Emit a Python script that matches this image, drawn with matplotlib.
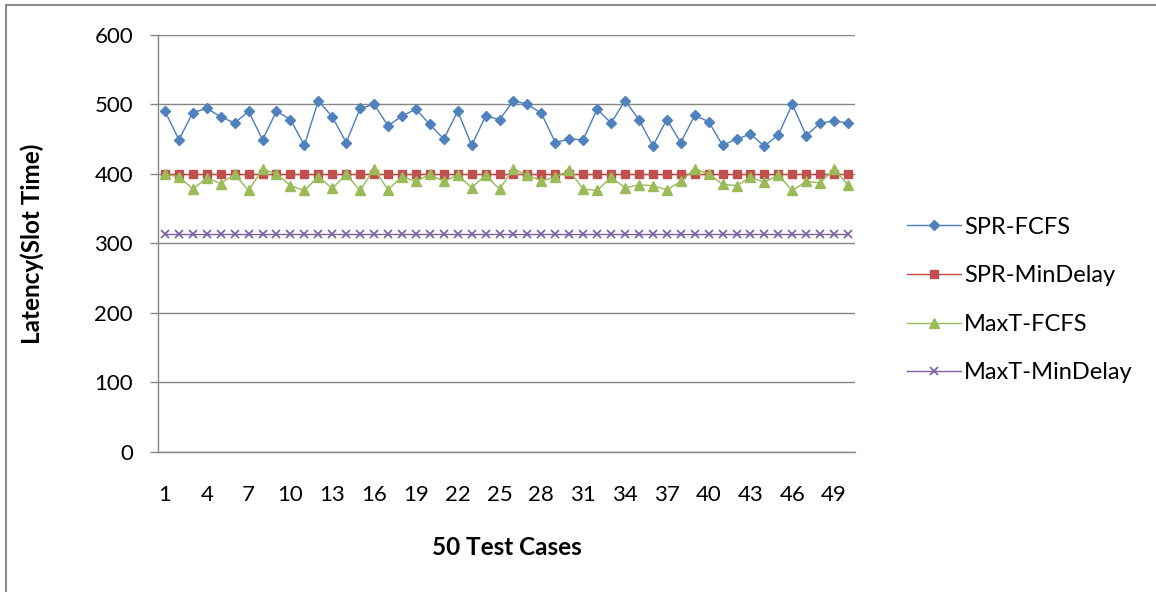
import matplotlib
matplotlib.use("Agg")
import matplotlib.pyplot as plt
from matplotlib.patches import Rectangle

plt.rcParams['font.family'] = ['Lato', 'DejaVu Sans']

# 50 test cases, latency values
cases = list(range(1, 51))
spr_fcfs = [490, 449, 488, 494, 482, 473, 490, 449, 490, 478,
            441, 505, 482, 445, 494, 500, 469, 483, 493, 471,
            450, 490, 441, 483, 478, 505, 500, 487, 445, 450,
            449, 493, 473, 505, 478, 440, 478, 445, 484, 475,
            441, 450, 457, 440, 456, 500, 455, 473, 476, 473]
spr_mindelay = [400] * 50
maxt_fcfs = [399, 396, 378, 394, 386, 399, 376, 407, 400, 383,
             376, 396, 379, 399, 376, 407, 377, 396, 389, 399,
             389, 398, 380, 398, 378, 407, 398, 390, 395, 405,
             378, 376, 395, 380, 384, 383, 377, 389, 407, 400,
             385, 383, 395, 388, 398, 376, 389, 387, 407, 384]
maxt_mindelay = [313] * 50

series_names = ["SPR-FCFS", "SPR-MinDelay", "MaxT-FCFS", "MaxT-MinDelay"]
y_ticks = [0, 100, 200, 300, 400, 500, 600]
x_tick_cases = cases[::3]

W, H = 1156, 592
fig = plt.figure(figsize=(W / 100, H / 100), dpi=100)
ax = fig.add_axes([158 / W, 1 - 452 / H, (855 - 158) / W, (452 - 34.7) / H])

grey = "#868686"

ax.plot(cases, spr_fcfs, color="#4A7EBB", lw=1.0, marker="D", ms=5.5,
        mfc="#4F81BD", mec="#4F81BD", label=series_names[0])
ax.plot(cases, spr_mindelay, color="#BE4B48", lw=1.0, marker="s", ms=6,
        mfc="#C0504D", mec="#C0504D", label=series_names[1])
ax.plot(cases, maxt_fcfs, color="#98B954", lw=1.0, marker="^", ms=7,
        mfc="#9BBB59", mec="#9BBB59", label=series_names[2])
ax.plot(cases, maxt_mindelay, color="#7D60A0", lw=1.0, marker="x", ms=5.5,
        mew=1.3, mec="#8064A2", label=series_names[3])

ax.set_xlim(0.5, 50.5)
ax.set_ylim(0, 600)
ax.set_yticks(y_ticks)
ax.set_xticks(x_tick_cases)
ax.yaxis.grid(True, color=grey, lw=1.0)
ax.set_axisbelow(True)

for side in ["top", "right"]:
    ax.spines[side].set_visible(False)
for side in ["left", "bottom"]:
    ax.spines[side].set_color(grey)
    ax.spines[side].set_linewidth(1.0)

ax.tick_params(axis="y", length=6, width=1.0, color=grey, pad=12, labelsize=16)
ax.tick_params(axis="x", length=0, pad=24, labelsize=16)

ax.set_ylabel("Latency(Slot Time)", fontsize=17.5, fontweight="bold", va="center")
ax.yaxis.set_label_coords(-0.181, 0.5)
ax.set_xlabel("50 Test Cases", fontsize=17.5, fontweight="bold", va="center")
ax.xaxis.set_label_coords(0.5, -0.228)

ax.legend(loc="center left", bbox_to_anchor=(895 / W, 1 - 300 / H),
          bbox_transform=fig.transFigure, frameon=False, fontsize=17,
          handlelength=2.3, handletextpad=0.12, labelspacing=1.17, borderpad=0)

# outer chart border (only left and top edges visible in the crop)
fig.patches.append(Rectangle((6 / W, -0.2), 2, 1.2 - 5 / H, transform=fig.transFigure,
                             fill=False, edgecolor="#8C8C8C", lw=1.5))

fig.savefig("out.png", dpi=100)
